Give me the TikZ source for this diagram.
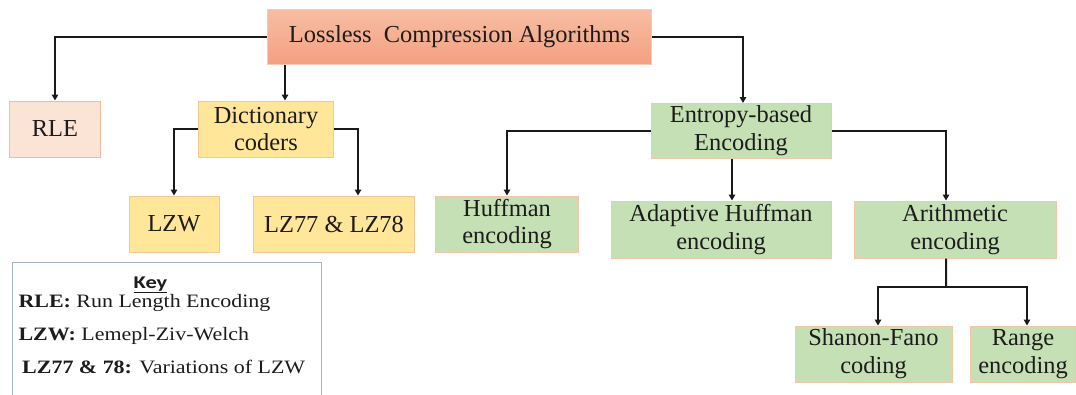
\documentclass[tikz,border=0pt]{standalone}
\usepackage{fontspec}
\setmainfont{Liberation Serif}
\newfontfamily\keyhead{Carlito}
\usetikzlibrary{arrows.meta}
\definecolor{txt}{HTML}{1C1C1C}
\definecolor{roottop}{HTML}{F7BDA4}
\definecolor{rootbot}{HTML}{F4A07F}
\definecolor{rootedge}{HTML}{F9C9B3}
\definecolor{rlefill}{HTML}{FBE3D6}
\definecolor{rleedge}{HTML}{F5BB9C}
\definecolor{yelfill}{HTML}{FFE699}
\definecolor{yeledge}{HTML}{F6C796}
\definecolor{grnfill}{HTML}{C5E0B4}
\definecolor{grnedge}{HTML}{F2C6A6}
\definecolor{keyedge}{HTML}{9DB4CB}
\definecolor{linec}{HTML}{1A1A1A}
\begin{document}
\begin{tikzpicture}[x=1bp,y=-1bp,
  box/.style={draw, line width=1bp, inner sep=0pt, align=center,
    font=\fontsize{24.5}{28}\selectfont, text=txt},
  rootbox/.style={box, draw=rootedge, top color=roottop, bottom color=rootbot},
  rlebox/.style={box, draw=rleedge, fill=rlefill},
  yelbox/.style={box, draw=yeledge, fill=yelfill},
  grnbox/.style={box, draw=grnedge, fill=grnfill},
  conn/.style={draw=linec, line width=2bp, -{Triangle[length=6bp,width=6.5bp]}},
  plain/.style={draw=linec, line width=2bp},
  keybox/.style={draw=keyedge, line width=1bp, inner sep=0pt},
  keyline/.style={anchor=base west, inner sep=0pt, text=txt, transform shape, xscale=1.16,
    font=\fontsize{19}{22}\selectfont}]
\useasboundingbox (0,0) rectangle (1076,394);
\clip (0,0) rectangle (1076,394);

% nodes
\node[rootbox, minimum width=384bp, minimum height=55bp] (root) at (459.5,37) {Lossless\ \ Compression Algorithms};
\node[rlebox, minimum width=90bp, minimum height=56bp] (rle) at (55,129) {RLE};
\node[yelbox, minimum width=135bp, minimum height=56bp] (dict) at (266,129) {Dictionary\\coders};
\node[yelbox, minimum width=90bp, minimum height=56bp] (lzw) at (174,224) {LZW};
\node[yelbox, minimum width=161bp, minimum height=56bp] (lz77) at (334,224) {LZ77 \& LZ78};
\node[grnbox, minimum width=180bp, minimum height=55bp] (ent) at (741,131) {Entropy-based\\Encoding};
\node[grnbox, minimum width=143bp, minimum height=56bp] (huff) at (507,224) {Huffman\\encoding};
\node[grnbox, minimum width=220bp, minimum height=57bp] (adapt) at (721,229.5) {Adaptive Huffman\\encoding};
\node[grnbox, minimum width=202bp, minimum height=57bp] (arith) at (955,229.5) {Arithmetic\\encoding};
\node[grnbox, minimum width=157bp, minimum height=56bp] (sf) at (873.5,354) {Shanon-Fano\\coding};
\node[grnbox, minimum width=105bp, minimum height=56bp] (range) at (1023,354) {Range\\encoding};

% key
\node[keybox, anchor=north west, minimum width=308.6bp, minimum height=150bp] (key) at (12.4,262) {};
\node[anchor=base, inner sep=0pt, text=txt, transform shape, xscale=1.25,
  font=\keyhead\fontsize{18}{20}\selectfont\bfseries] (keyt) at (150.5,288) {\underline{Key}};
\node[keyline] (k1) at (18.3,307.3) {\textbf{RLE:} Run Length Encoding};
\node[keyline] (k2) at (18.3,340.7) {\textbf{LZW:} Lemepl-Ziv-Welch};
\node[keyline] (k3) at (22,373.3) {\textbf{LZ77 \& 78:} Variations of LZW};

% connectors
\draw[conn] (root.west) -| (rle.north);
\draw[conn] ([xshift=19bp]dict.north |- root.south) -- ([xshift=19bp]dict.north);
\draw[conn] (root.east) -| ([xshift=2bp]ent.north);
\draw[conn] (dict.west) -| (lzw.north);
\draw[conn] (dict.east) -| ([xshift=24bp]lz77.north);
\draw[conn] (ent.west) -| (huff.north);
\draw[conn] ([xshift=-9bp]ent.south) -- ([xshift=-9bp]ent.south |- adapt.north);
\draw[conn] (ent.east) -| ([xshift=-9bp]arith.north);
\coordinate (aj) at (946,287);
\draw[plain] ([xshift=-9bp]arith.south) -- (aj);
\draw[conn] (aj) -| ([xshift=4.5bp]sf.north);
\draw[conn] (aj) -| ([xshift=4bp]range.north);
\end{tikzpicture}
\end{document}
